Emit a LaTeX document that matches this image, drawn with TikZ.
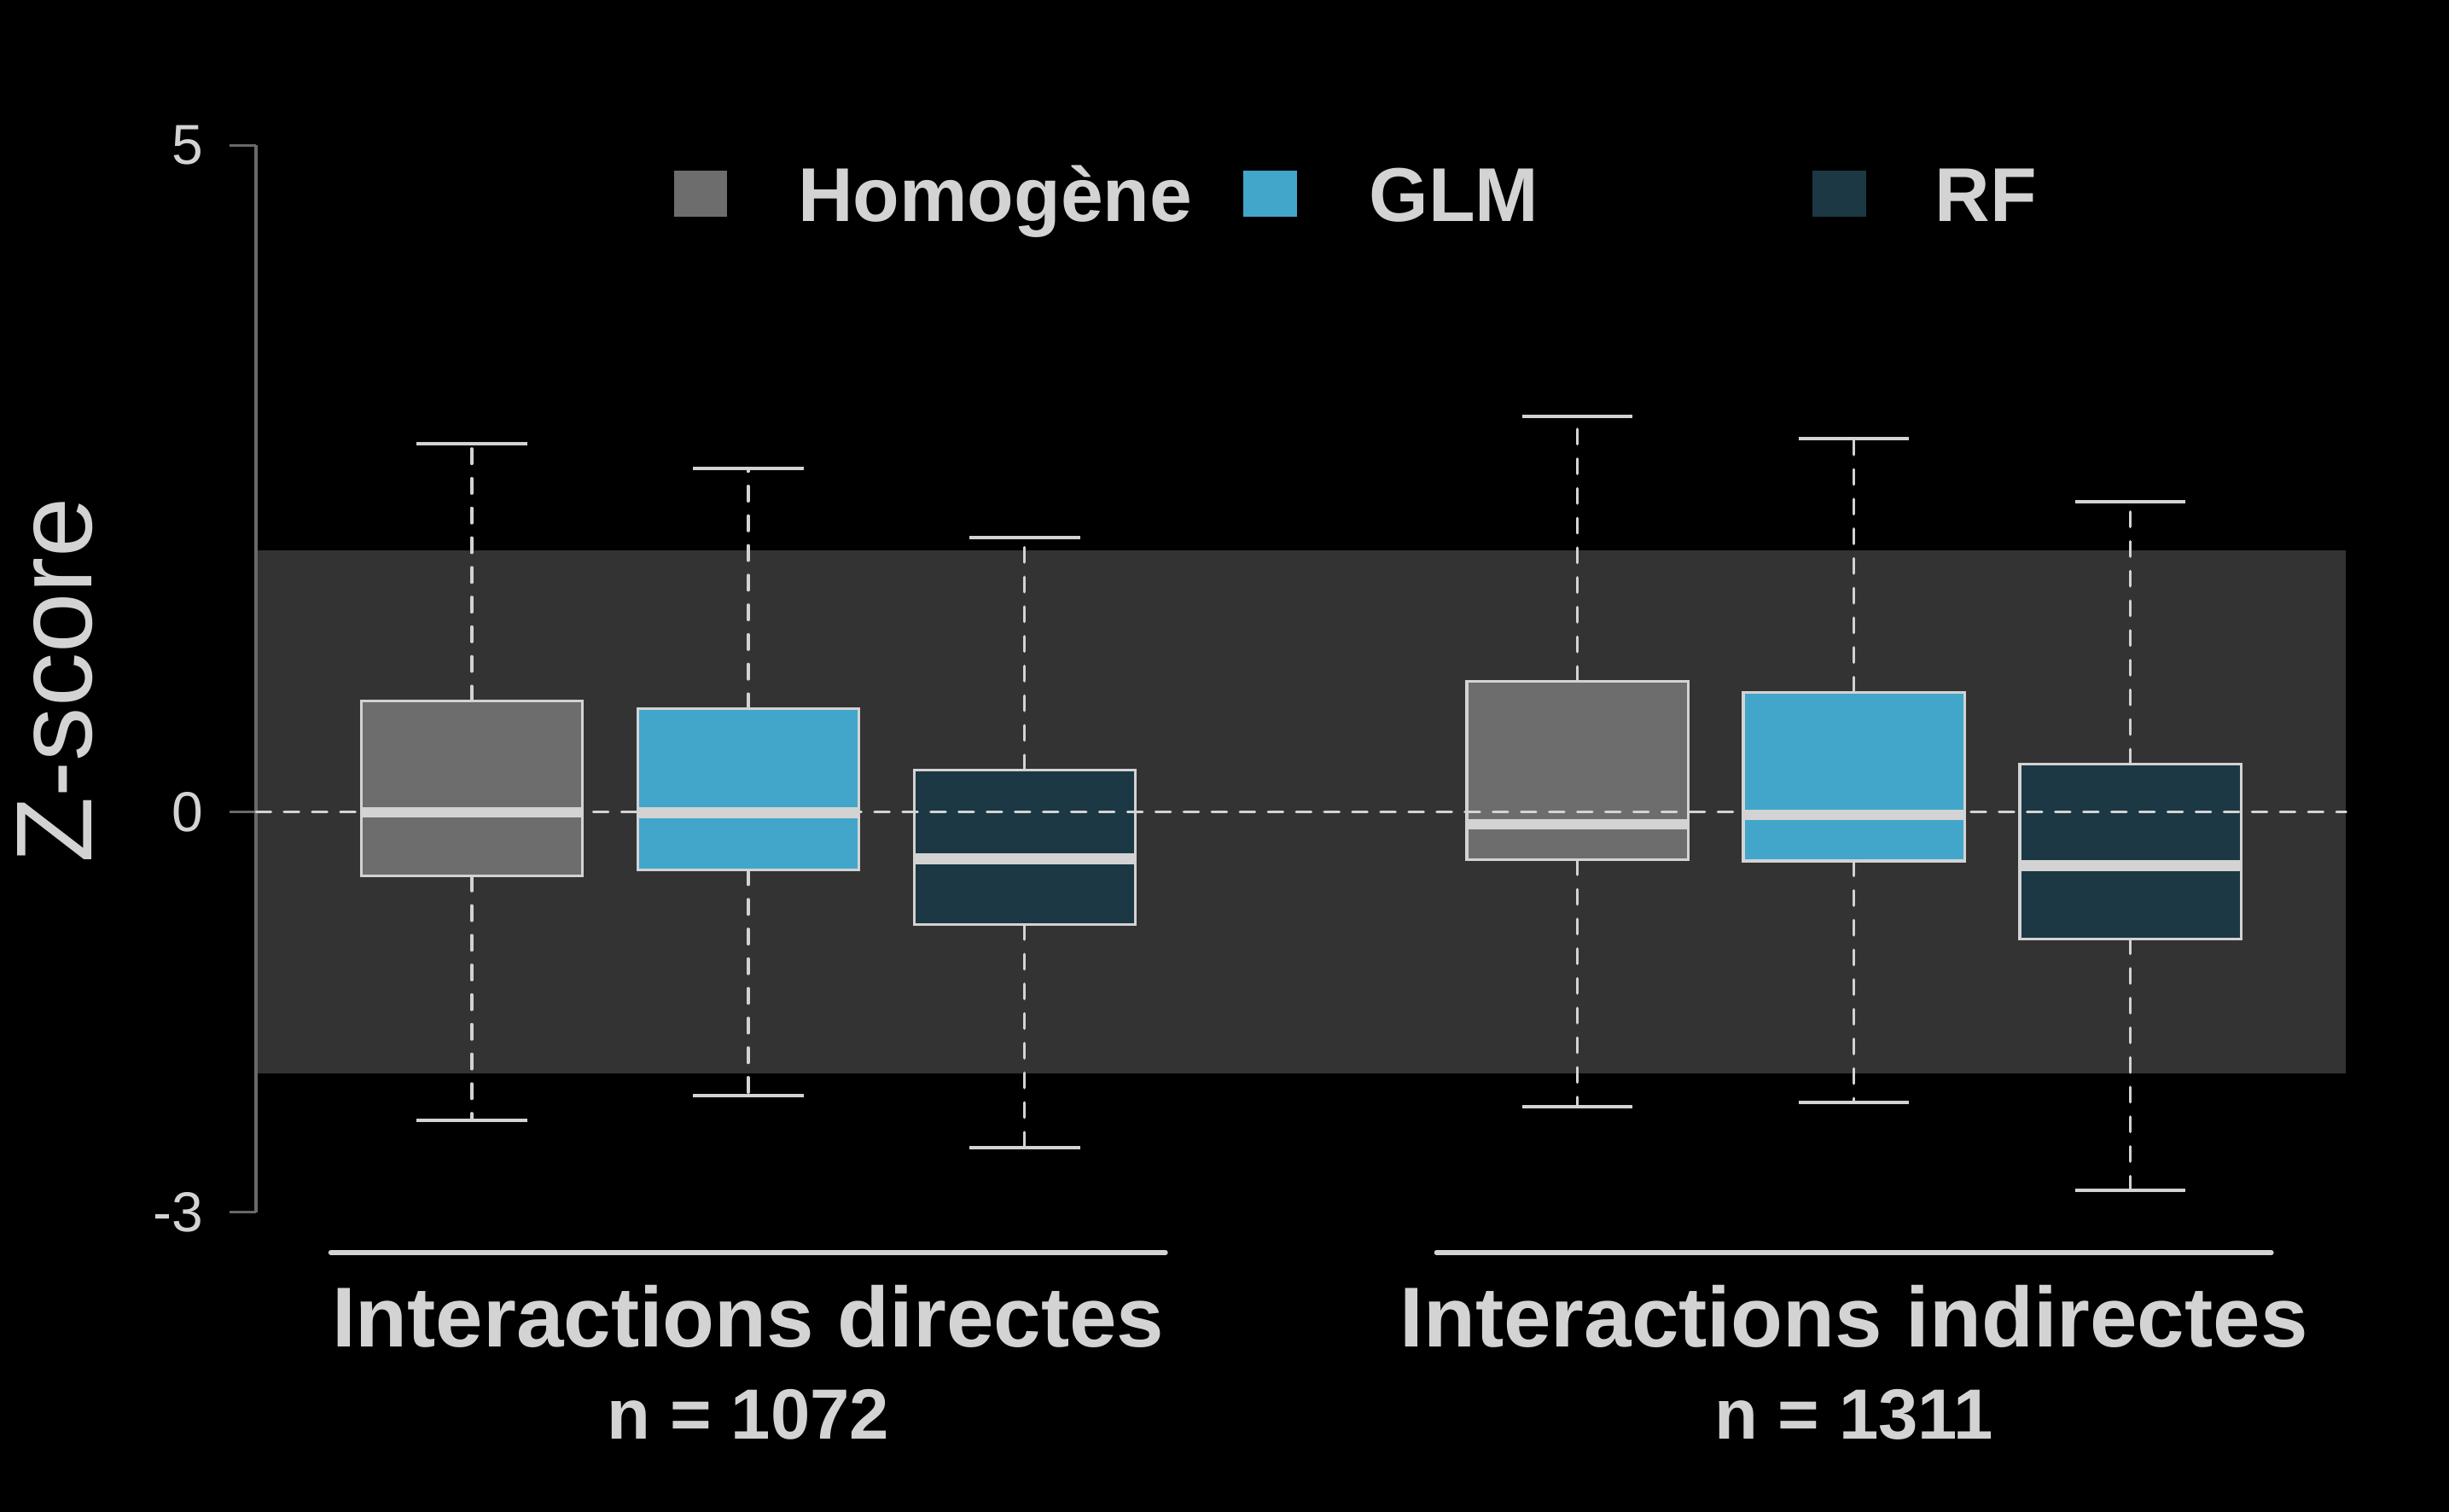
\documentclass[tikz,border=0pt]{standalone}
\usepackage{fontspec}
\setmainfont{Liberation Sans}
\usetikzlibrary{positioning}

\definecolor{bandgray}{HTML}{333333}
\definecolor{axisgray}{HTML}{696969}
\definecolor{lightline}{HTML}{D3D3D3}
\definecolor{homog}{HTML}{6D6D6D}
\definecolor{glm}{HTML}{42A6CB}
\definecolor{rf}{HTML}{1B3844}

\begin{document}
\begin{tikzpicture} [x=3.54cm, y=1.708cm,
                boxline/.style = {draw=lightline, line width=1pt},
                medianline/.style = {draw=lightline, line width=3.9pt},
                whisker/.style = {draw=lightline, line width=1.1pt,
                    line cap=round, dash pattern=on 0.19cm off 0.19cm},
                staple/.style = {draw=lightline, line width=1.2pt},
                zeroline/.style = {draw=lightline, line width=1pt,
                    line cap=round, dash pattern=on 0.19cm off 0.17cm},
                axisline/.style = {draw=axisgray, line width=1pt},
                ticklabel/.style = {text=lightline, anchor=east, inner sep=0pt,
                    font=\fontsize{20.5}{24}\selectfont},
                legendkey/.style = {minimum width=0.68cm, minimum height=0.58cm,
                    inner sep=0pt},
                legendtext/.style = {text=lightline, anchor=base west, inner sep=0pt,
                    font=\fontsize{27.8}{32}\selectfont\bfseries},
                grouptitle/.style = {text=lightline, anchor=base, inner sep=0pt,
                    font=\fontsize{31}{36}\selectfont\bfseries},
                groupcount/.style = {text=lightline, anchor=base, inner sep=0pt,
                    font=\fontsize{25.9}{30}\selectfont\bfseries},
                bracket/.style = {draw=lightline, line width=1.7pt, line cap=round}]

            % Background and frame
            \useasboundingbox (-0.7062,-5.2459) rectangle (8.1525,6.0890);
            \fill[black] (-0.7062,-5.2459) rectangle (8.1525,6.0890);

            % Band between -1.96 and 1.96
            \fill[bandgray] (0.22,-1.96) rectangle (7.78,1.96);

            % Y axis
            \draw[axisline] (0.22,-3) -- (0.22,5);
            \draw[axisline] (0.22,5) -- (0.124,5);
            \draw[axisline] (0.22,0) -- (0.124,0);
            \draw[axisline] (0.22,-3) -- (0.124,-3);
            \node (t5) [ticklabel] at (0.03,5) {5};
            \node (t0) [ticklabel] at (0.03,0) {0};
            \node (tm3) [ticklabel] at (0.03,-3) {-3};
            \node (ylab) [text=lightline, rotate=90, anchor=base, inner sep=0pt,
                font=\fontsize{39.3}{44}\selectfont] at (-0.373,0.989) {Z-score};

            % Box Homogene, directes
            \draw[whisker] (1,0.833) -- (1,2.76);
            \draw[whisker] (1,-0.479) -- (1,-2.313);
            \draw[staple] (0.8,2.76) -- (1.2,2.76);
            \draw[staple] (0.8,-2.313) -- (1.2,-2.313);
            \draw[boxline, fill=homog] (0.6,-0.479) rectangle (1.4,0.833);

            % Box GLM, directes
            \draw[whisker] (2,0.775) -- (2,2.575);
            \draw[whisker] (2,-0.432) -- (2,-2.125);
            \draw[staple] (1.8,2.575) -- (2.2,2.575);
            \draw[staple] (1.8,-2.125) -- (2.2,-2.125);
            \draw[boxline, fill=glm] (1.6,-0.432) rectangle (2.4,0.775);

            % Box RF, directes
            \draw[whisker] (3,0.316) -- (3,2.056);
            \draw[whisker] (3,-0.843) -- (3,-2.513);
            \draw[staple] (2.8,2.056) -- (3.2,2.056);
            \draw[staple] (2.8,-2.513) -- (3.2,-2.513);
            \draw[boxline, fill=rf] (2.6,-0.843) rectangle (3.4,0.316);

            % Box Homogene, indirectes
            \draw[whisker] (5,0.98) -- (5,2.967);
            \draw[whisker] (5,-0.357) -- (5,-2.208);
            \draw[staple] (4.8,2.967) -- (5.2,2.967);
            \draw[staple] (4.8,-2.208) -- (5.2,-2.208);
            \draw[boxline, fill=homog] (4.6,-0.357) rectangle (5.4,0.98);

            % Box GLM, indirectes
            \draw[whisker] (6,0.90) -- (6,2.80);
            \draw[whisker] (6,-0.366) -- (6,-2.178);
            \draw[staple] (5.8,2.80) -- (6.2,2.80);
            \draw[staple] (5.8,-2.178) -- (6.2,-2.178);
            \draw[boxline, fill=glm] (5.6,-0.366) rectangle (6.4,0.90);

            % Box RF, indirectes
            \draw[whisker] (7,0.36) -- (7,2.33);
            \draw[whisker] (7,-0.95) -- (7,-2.837);
            \draw[staple] (6.8,2.33) -- (7.2,2.33);
            \draw[staple] (6.8,-2.837) -- (7.2,-2.837);
            \draw[boxline, fill=rf] (6.6,-0.95) rectangle (7.4,0.36);

            % Zero line
            \draw[zeroline] (0.22,0) -- (7.78,0);

            % Medians
            \draw[medianline] (0.6,0) -- (1.4,0);
            \draw[medianline] (1.6,-0.005) -- (2.4,-0.005);
            \draw[medianline] (2.6,-0.351) -- (3.4,-0.351);
            \draw[medianline] (4.6,-0.09) -- (5.4,-0.09);
            \draw[medianline] (5.6,-0.02) -- (6.4,-0.02);
            \draw[medianline] (6.6,-0.40) -- (7.4,-0.40);

            % Legend
            \node (keyH) [legendkey, fill=homog] at (1.829,4.637) {};
            \node (keyG) [legendkey, fill=glm] at (3.888,4.637) {};
            \node (keyR) [legendkey, fill=rf] at (5.947,4.637) {};
            \node (labH) [legendtext] at (2.178,4.426) {Homogène};
            \node (labG) [legendtext] at (4.245,4.426) {GLM};
            \node (labR) [legendtext] at (6.292,4.426) {RF};

            % Groups
            \draw[bracket] (0.49,-3.302) -- (3.51,-3.302);
            \draw[bracket] (4.49,-3.302) -- (7.51,-3.302);
            \node (grpD) [grouptitle] at (2,-4.012) {Interactions directes};
            \node (nD) [groupcount, below=1.178cm of grpD.base, anchor=base] {n = 1072};
            \node (grpI) [grouptitle] at (6,-4.012) {Interactions indirectes};
            \node (nI) [groupcount, below=1.178cm of grpI.base, anchor=base] {n = 1311};
\end{tikzpicture}
\end{document}
